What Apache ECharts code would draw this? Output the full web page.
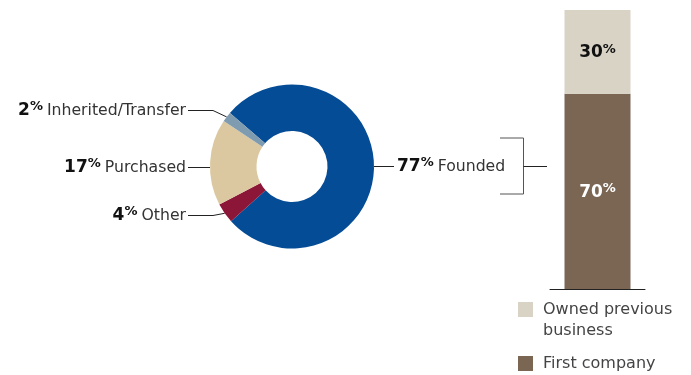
<!DOCTYPE html>
<html>
<head>
<meta charset="utf-8">
<script src="https://cdn.jsdelivr.net/npm/echarts@6/dist/echarts.min.js"></script>
<style>
  html, body { margin: 0; padding: 0; background: #ffffff; }
  #chart { width: 691px; height: 375px; }
</style>
</head>
<body>
<div id="chart"></div>
<script>
// How the business was acquired (shares, %), in drawing order
const originNames = ['Founded', 'Other', 'Purchased', 'Inherited/Transfer'];
const originValues = [77, 4, 17, 2];
const originColors = ['#054c96', '#8c1638', '#dbc8a0', '#7f9bb0'];

// Founders split: first company vs. owned a previous business (%)
const founderCategories = ['Founded'];
const firstCompany = [70];
const ownedPrevious = [30];

const FONT = '"DejaVu Sans", Verdana, sans-serif';
const CX = 292, CY = 166.5, R = 82, R_IN = 35.5;
const START = 139.2;

// label anchor heights on the left side, per slice index
const labelY = { 1: 215, 2: 167, 3: 110 };

function midAngle(idx) {
  let a = START;
  for (let i = 0; i < idx; i++) a -= originValues[i] * 3.6;
  return (a - originValues[idx] * 1.8) * Math.PI / 180;
}

function numberRich(color) {
  return {
    n: { fontFamily: FONT, fontSize: 17, fontWeight: 'bold', color: color, lineHeight: 20 },
    p: { fontFamily: FONT, fontSize: 13, fontWeight: 'bold', color: color, verticalAlign: 'top', lineHeight: 19.5 },
    t: { fontFamily: FONT, fontSize: 15.7, color: '#333', lineHeight: 20, padding: [0, 0, 0, 4] }
  };
}

const chart = echarts.init(document.getElementById('chart'), null, { renderer: 'canvas' });

chart.setOption({
  animation: false,
  backgroundColor: '#ffffff',
  grid: { left: 550, width: 95, top: 10, height: 279 },
  xAxis: {
    type: 'category',
    data: founderCategories,
    axisLine: { lineStyle: { color: '#222', width: 1 } },
    axisTick: { show: false },
    axisLabel: { show: false }
  },
  yAxis: { type: 'value', min: 0, max: 100, show: false, splitLine: { show: false } },
  legend: [
    {
      left: 518, top: 278, padding: 0, orient: 'vertical',
      icon: 'rect', itemWidth: 15, itemHeight: 15,
      selectedMode: false,
      data: [{ name: 'Owned previous business' }],
      // blank first line keeps the swatch level with the first text line
      formatter: () => ' \nOwned previous\nbusiness',
      textStyle: { fontFamily: FONT, fontSize: 16, color: '#444', lineHeight: 21, padding: [0, 0, 0, 5] }
    },
    {
      left: 518, top: 353, padding: 0, orient: 'vertical',
      icon: 'rect', itemWidth: 15, itemHeight: 15,
      selectedMode: false,
      data: [{ name: 'First company' }],
      textStyle: { fontFamily: FONT, fontSize: 16, color: '#444', lineHeight: 21, padding: [0, 0, 0, 5] }
    }
  ],
  graphic: [
    {
      type: 'polyline', silent: true,
      shape: { points: [[500, 138], [523.5, 138], [523.5, 194], [500, 194]] },
      style: { stroke: '#555', lineWidth: 1, fill: null }
    },
    {
      type: 'line', silent: true,
      shape: { x1: 523.5, y1: 166.5, x2: 547, y2: 166.5 },
      style: { stroke: '#222', lineWidth: 1 }
    }
  ],
  series: [
    {
      type: 'pie',
      center: [CX, CY],
      radius: [R_IN, R],
      startAngle: START,
      clockwise: true,
      avoidLabelOverlap: false,
      silent: true,
      data: originNames.map((n, i) => ({ name: n, value: originValues[i], itemStyle: { color: originColors[i] } })),
      label: {
        show: true,
        position: 'outside',
        formatter: '{n|{c}}{p|%}{t|{b}}',
        rich: numberRich('#111')
      },
      labelLine: { show: true, length: 10, length2: 10, smooth: false, lineStyle: { color: '#222', width: 1 } },
      labelLayout: function (params) {
        const idx = params.dataIndex;
        const a = midAngle(idx);
        const edge = [CX + R * Math.cos(a), CY - R * Math.sin(a)];
        if (idx === 0) {
          const y = 166.5;
          return {
            x: 397, y: y, align: 'left', verticalAlign: 'middle',
            labelLinePoints: [[CX + R, y], [CX + R + 5, y], [394, y]]
          };
        }
        const y = labelY[idx] + 0.5;
        const cross = CX - Math.sqrt(R * R - (y - CY) * (y - CY));
        let knee, start;
        if (cross <= 213) { knee = [cross, y]; start = [cross, y]; }
        else { knee = [213, y]; start = edge; }
        return {
          x: 186, y: y, align: 'right', verticalAlign: 'middle',
          labelLinePoints: [start, knee, [188, y]]
        };
      }
    },
    {
      name: 'First company',
      type: 'bar',
      stack: 'founders',
      barWidth: 66,
      data: firstCompany,
      itemStyle: { color: '#7b6654' },
      label: {
        show: true, position: 'inside', offset: [0, 1],
        formatter: '{n|{c}}{p|%}',
        rich: numberRich('#ffffff')
      }
    },
    {
      name: 'Owned previous business',
      type: 'bar',
      stack: 'founders',
      barWidth: 66,
      data: ownedPrevious,
      itemStyle: { color: '#d9d3c5' },
      label: {
        show: true, position: 'inside', offset: [0, 1],
        formatter: '{n|{c}}{p|%}',
        rich: numberRich('#111')
      }
    }
  ]
});
</script>
</body>
</html>
